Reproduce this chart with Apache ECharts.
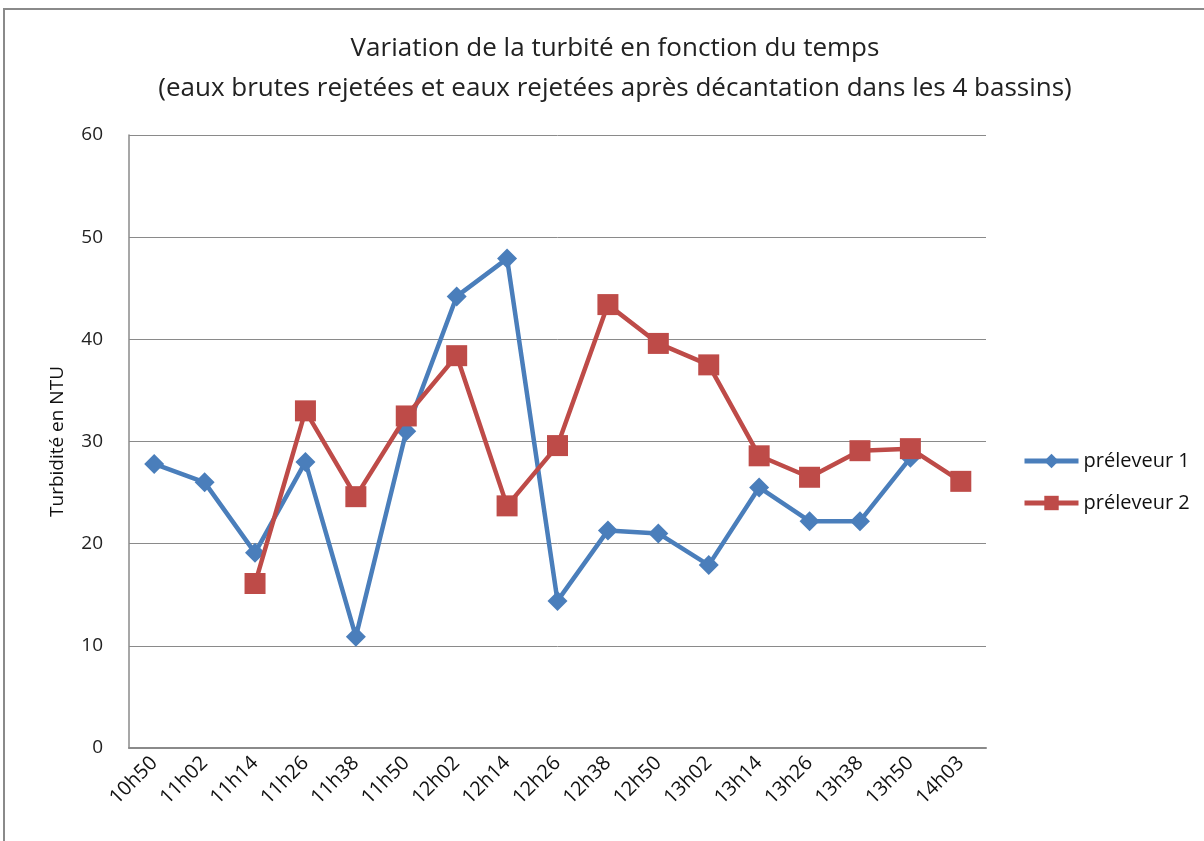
<!DOCTYPE html>
<html>
<head>
<meta charset="utf-8">
<script src="https://cdn.jsdelivr.net/npm/echarts@6/dist/echarts.min.js"></script>
<style>
  html, body { margin: 0; padding: 0; background: #fff; }
</style>
</head>
<body>
<div id="chart" style="width:1204px;height:841px;"></div>
<script>
var heures = ['10h50', '11h02', '11h14', '11h26', '11h38', '11h50', '12h02', '12h14', '12h26',
              '12h38', '12h50', '13h02', '13h14', '13h26', '13h38', '13h50', '14h03'];
var preleveur1 = [27.8, 26.0, 19.1, 28.0, 10.9, 31.0, 44.2, 47.9, 14.4,
                  21.3, 21.0, 17.9, 25.5, 22.2, 22.2, 28.4, null];
var preleveur2 = [null, null, 16.1, 33.0, 24.6, 32.5, 38.4, 23.7, 29.6,
                  43.4, 39.6, 37.5, 28.6, 26.5, 29.1, 29.3, 26.1];
var yTicks = [0, 10, 20, 30, 40, 50, 60];

var police = '"Open Sans", "Noto Sans", sans-serif';
var myChart = echarts.init(document.getElementById('chart'));
myChart.setOption({
    backgroundColor: '#fff',
    animation: false,
    textStyle: { fontFamily: police },
    title: {
        text: 'Variation de la turbité en fonction du temps\n(eaux brutes rejetées et eaux rejetées après décantation dans les 4 bassins)',
        left: 610,
        textAlign: 'center',
        top: 24,
        textStyle: {
            fontSize: 26,
            fontWeight: 'normal',
            color: '#222',
            lineHeight: 40,
            fontFamily: police
        }
    },
    graphic: [{
        type: 'rect',
        shape: { x: 4, y: 9, width: 1230, height: 860 },
        style: { fill: 'none', stroke: '#8a8a8a', lineWidth: 2 },
        silent: true
    }],
    legend: {
        orient: 'vertical',
        left: 1017,
        top: 446,
        itemWidth: 54,
        itemHeight: 18,
        itemGap: 22,
        lineStyle: { width: 5 },
        textStyle: { fontSize: 20, color: '#111', fontFamily: police },
        data: ['préleveur 1', 'préleveur 2']
    },
    grid: {
        left: 129,
        right: 218,
        top: 135,
        bottom: 93,
        containLabel: false
    },
    xAxis: {
        type: 'category',
        data: heures,
        boundaryGap: true,
        axisLine: { show: true, lineStyle: { color: '#8a8a8a', width: 2 } },
        axisTick: { show: false },
        axisLabel: {
            rotate: 45,
            interval: 0,
            margin: 12,
            fontSize: 20,
            color: '#111',
            fontFamily: police
        }
    },
    yAxis: {
        type: 'value',
        min: yTicks[0],
        max: yTicks[yTicks.length - 1],
        interval: 10,
        name: 'Turbidité en NTU',
        nameLocation: 'middle',
        nameGap: 62,
        nameTextStyle: { fontSize: 19, color: '#111', fontFamily: police },
        axisLine: { show: true, lineStyle: { color: '#8a8a8a', width: 1.5 } },
        axisTick: { show: false },
        axisLabel: { fontSize: 19, color: '#222', margin: 26, fontFamily: police },
        splitLine: { show: true, lineStyle: { color: '#8a8a8a', width: 1 } }
    },
    series: [
        {
            name: 'préleveur 1',
            type: 'line',
            data: preleveur1,
            symbol: 'diamond',
            symbolSize: 20,
            z: 3,
            lineStyle: { color: '#4A7EBB', width: 4.5 },
            itemStyle: { color: '#4A7EBB' }
        },
        {
            name: 'préleveur 2',
            type: 'line',
            data: preleveur2,
            symbol: 'rect',
            symbolSize: 21,
            z: 4,
            lineStyle: { color: '#BE4B48', width: 4.5 },
            itemStyle: { color: '#BE4B48' }
        }
    ]
});
</script>
</body>
</html>
